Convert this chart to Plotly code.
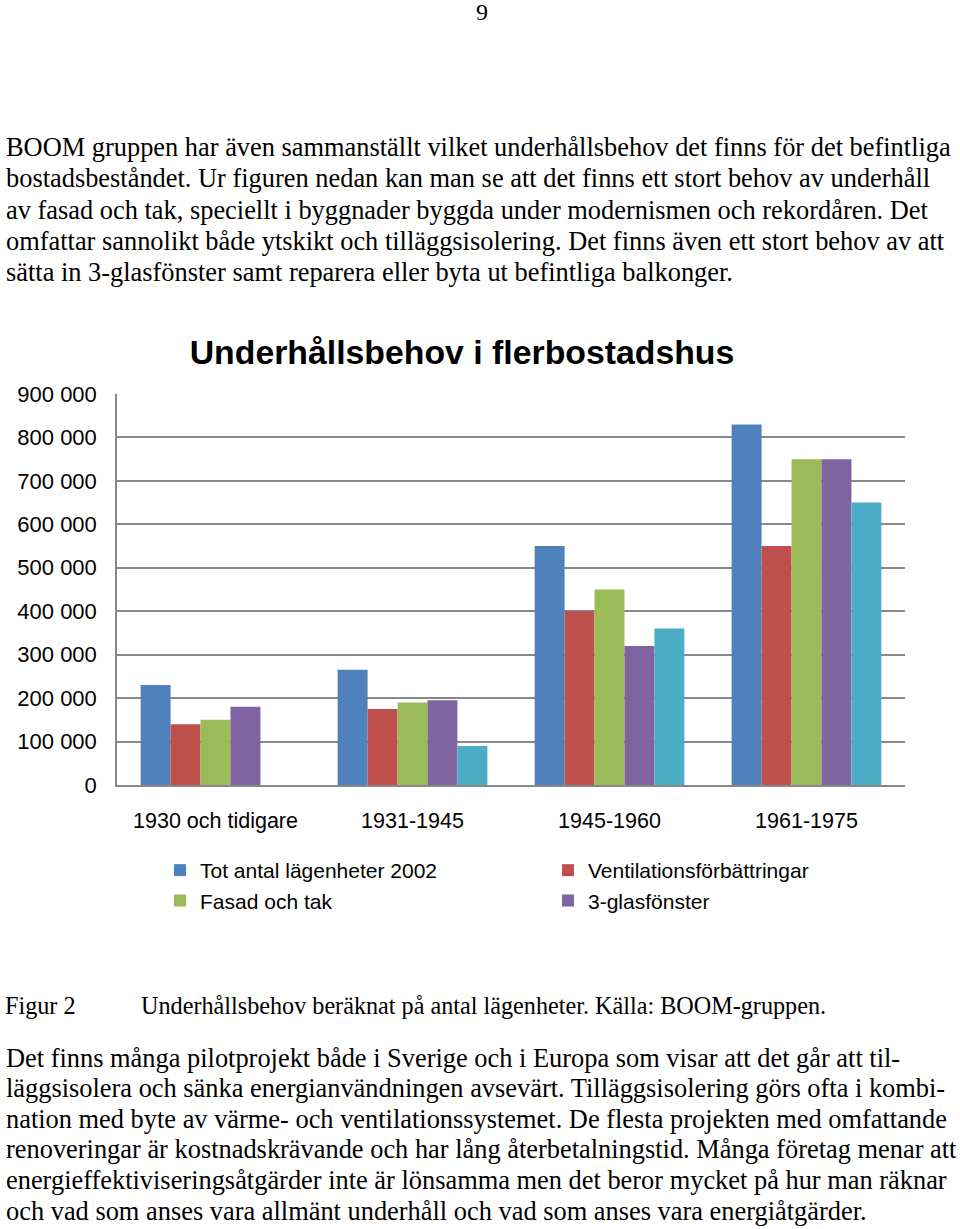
import plotly.graph_objects as go

W, H = 960, 1229

categories = ["1930 och tidigare", "1931-1945", "1945-1960", "1961-1975"]
series_names = ["Tot antal lägenheter 2002", "Ventilationsförbättringar", "Fasad och tak", "3-glasfönster", "Balkonger"]
tot_antal = [230000, 265000, 550000, 830000]
ventilation = [140000, 175000, 400000, 550000]
fasad_tak = [150000, 190000, 450000, 750000]
glasfonster = [180000, 195000, 320000, 750000]
balkonger = [None, 90000, 360000, 650000]
series_values = [tot_antal, ventilation, fasad_tak, glasfonster, balkonger]
colors = ["#4F81BD", "#C0504D", "#9BBB59", "#8064A2", "#4BACC6"]
show_in_legend = [True, True, True, True, False]

tick_vals = [0, 100000, 200000, 300000, 400000, 500000, 600000, 700000, 800000, 900000]
tick_text = ["0", "100 000", "200 000", "300 000", "400 000", "500 000", "600 000", "700 000", "800 000", "900 000"]

top_lines = [
    "BOOM gruppen har även sammanställt vilket underhållsbehov det finns för det befintliga",
    "bostadsbeståndet. Ur figuren nedan kan man se att det finns ett stort behov av underhåll",
    "av fasad och tak, speciellt i byggnader byggda under modernismen och rekordåren. Det",
    "omfattar sannolikt både ytskikt och tilläggsisolering. Det finns även ett stort behov av att",
    "sätta in 3-glasfönster samt reparera eller byta ut befintliga balkonger.",
]
top_y = [147, 178, 210, 241, 272]
bottom_lines = [
    "Det finns många pilotprojekt både i Sverige och i Europa som visar att det går att til-",
    "läggsisolera och sänka energianvändningen avsevärt. Tilläggsisolering görs ofta i kombi-",
    "nation med byte av värme- och ventilationssystemet. De flesta projekten med omfattande",
    "renoveringar är kostnadskrävande och har lång återbetalningstid. Många företag menar att",
    "energieffektiviseringsåtgärder inte är lönsamma men det beror mycket på hur man räknar",
    "och vad som anses vara allmänt underhåll och vad som anses vara energiåtgärder.",
]
bottom_y = [1058, 1088, 1119, 1149, 1180, 1211]

fig = go.Figure()
for name, vals, col, sl in zip(series_names, series_values, colors, show_in_legend):
    fig.add_trace(go.Bar(x=categories, y=vals, name=name, marker_color=col,
                         marker_line_width=0, showlegend=sl))

SERIF = "Liberation Serif, Times New Roman, serif"
SANS = "Liberation Sans, Arial, sans-serif"

def py(p):
    return 1 - p / H

ann = []
ann.append(dict(text="9", x=482 / W, y=py(12), xref="paper", yref="paper",
                xanchor="center", yanchor="middle", showarrow=False,
                font=dict(family=SERIF, size=24, color="black")))
for t, yy in zip(top_lines, top_y):
    ann.append(dict(text=t, x=4 / W, y=py(yy), xref="paper", yref="paper",
                    xanchor="left", yanchor="middle", showarrow=False,
                    font=dict(family=SERIF, size=26.4, color="black")))
for t, yy in zip(bottom_lines, bottom_y):
    ann.append(dict(text=t, x=4 / W, y=py(yy), xref="paper", yref="paper",
                    xanchor="left", yanchor="middle", showarrow=False,
                    font=dict(family=SERIF, size=26.4, color="black")))
ann.append(dict(text="Figur 2", x=3 / W, y=py(1005), xref="paper", yref="paper",
                xanchor="left", yanchor="middle", showarrow=False,
                font=dict(family=SERIF, size=24.2, color="black")))
ann.append(dict(text="Underhållsbehov beräknat på antal lägenheter. Källa: BOOM-gruppen.",
                x=139 / W, y=py(1005), xref="paper", yref="paper",
                xanchor="left", yanchor="middle", showarrow=False,
                font=dict(family=SERIF, size=24.2, color="black")))

fig.update_layout(
    width=W, height=H,
    margin=dict(l=0, r=0, t=0, b=0, autoexpand=False),
    paper_bgcolor="white", plot_bgcolor="white",
    barmode="group", bargap=0.24, bargroupgap=0,
    title=dict(text="<b>Underhållsbehov i flerbostadshus</b>", x=462 / W, y=py(352),
               xanchor="center", yanchor="middle", xref="paper", yref="paper",
               font=dict(family=SANS, size=33.8, color="black")),
    xaxis=dict(domain=[117 / W, 905 / W], showline=True, linecolor="#888888", linewidth=1.5,
               ticks="", showgrid=False, ticklabelstandoff=15,
               tickfont=dict(family=SANS, size=21.5, color="black")),
    yaxis=dict(domain=[py(785), py(394)], range=[0, 900000], tickvals=tick_vals, ticktext=tick_text,
               showline=True, linecolor="#888888", linewidth=1.5, showgrid=True,
               gridcolor="#888888", gridwidth=1.5, ticks="", ticklabelstandoff=14,
               zeroline=False,
               tickfont=dict(family=SANS, size=22, color="black")),
    legend=dict(orientation="h", x=160 / W, y=py(850), xanchor="left", yanchor="top",
                entrywidth=343, entrywidthmode="pixels", traceorder="normal",
                font=dict(family=SANS, size=21, color="black"), bgcolor="rgba(0,0,0,0)",
                tracegroupgap=0, itemwidth=30),
    annotations=ann,
)

fig.write_html("out.html")
